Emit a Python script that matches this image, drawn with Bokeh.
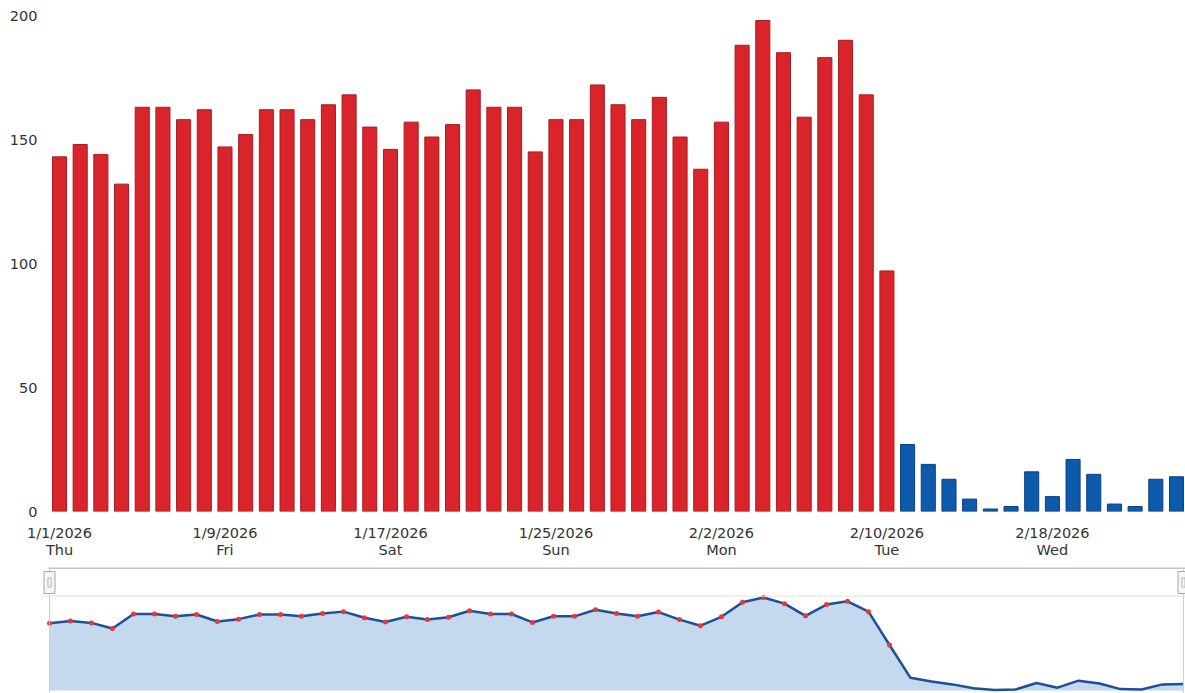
from bokeh.plotting import figure
from bokeh.layouts import column
from bokeh.models import Range1d, FixedTicker, Span
from bokeh.embed import file_html
from bokeh.resources import INLINE

# ---- data ----
red_values = [143, 148, 144, 132, 163, 163, 158, 162, 147, 152,
              162, 162, 158, 164, 168, 155, 146, 157, 151, 156,
              170, 163, 163, 145, 158, 158, 172, 164, 158, 167,
              151, 138, 157, 188, 198, 185, 159, 183, 190, 168,
              97]
blue_values = [27, 19, 13, 5, 1, 2, 16, 6, 21, 15, 3, 2, 13, 14]
y_ticks = [0, 50, 100, 150, 200]
tick_positions = [0, 8, 16, 24, 32, 40, 48]
tick_dates = ["1/1/2026", "1/9/2026", "1/17/2026", "1/25/2026",
              "2/2/2026", "2/10/2026", "2/18/2026"]
tick_days = ["Thu", "Fri", "Sat", "Sun", "Mon", "Tue", "Wed"]

all_values = red_values + blue_values
n = len(all_values)
idx = list(range(n))
red_x = idx[:len(red_values)]
blue_x = idx[len(red_values):]

FONT = "DejaVu Sans"
TEXT = "#333333"

# ---- main bar chart ----
p = figure(width=1185, height=567, output_backend="svg", toolbar_location=None,
           x_range=Range1d(-0.9185, n - 1 + 0.435), y_range=Range1d(0, 200),
           min_border_left=40, min_border_right=0, min_border_top=15,
           min_border_bottom=56)
p.outline_line_color = None
p.xgrid.grid_line_color = None
p.ygrid.grid_line_color = None
p.background_fill_color = "white"

p.vbar(x=red_x, top=red_values, width=0.68, fill_color="#d9242b",
       line_color="#a51c21", line_width=1)
p.vbar(x=blue_x, top=blue_values, width=0.68, fill_color="#0d5aaa",
       line_color="#0a3f82", line_width=1)

for ax in (p.xaxis, p.yaxis):
    ax.axis_line_color = None
    ax.major_tick_line_color = None
    ax.minor_tick_line_color = None
    ax.major_tick_out = 0
    ax.major_tick_in = 0
    ax.minor_tick_out = 0
    ax.minor_tick_in = 0
    ax.major_label_text_font = FONT
    ax.major_label_text_font_size = "14.5px"
    ax.major_label_text_color = TEXT

p.yaxis.ticker = FixedTicker(ticks=y_ticks)
p.yaxis.major_label_standoff = 3
p.xaxis.ticker = FixedTicker(ticks=tick_positions)
p.xaxis.major_label_overrides = {pos: f"{d}\n{w}" for pos, d, w in
                                 zip(tick_positions, tick_dates, tick_days)}
p.xaxis.major_label_standoff = 13
p.xaxis.major_label_text_line_height = 1.1

# ---- navigator ----
nav = figure(width=1185, height=126, output_backend="svg", toolbar_location=None,
             x_range=Range1d(-0.4286, n - 1 + 0.095), y_range=Range1d(-6.4, 262),
             min_border_left=40, min_border_right=0, min_border_top=0,
             min_border_bottom=0)
nav.axis.visible = False
nav.xgrid.grid_line_color = None
nav.ygrid.grid_line_color = None
nav.outline_line_color = None

nav.varea(x=idx, y1=0, y2=all_values, fill_color="#c4d8ee")
nav.line(idx, all_values, line_color="#1d4f9a", line_width=2.5)
nav.scatter(red_x, red_values, size=5, fill_color="#e23a34", line_color=None)

nav.add_layout(Span(location=max(all_values) + 3, dimension="width",
                    line_color="#e2e2e2", line_width=1))
nav.segment(x0=[-0.05], y0=[260.8], x1=[n - 1 + 0.095], y1=[260.8],
            line_color="#c2c2c2", line_width=2)
nav.segment(x0=[0, n - 1], y0=[-6.4, -6.4], x1=[0, n - 1], y1=[260.8, 260.8],
            line_color="#d0d0d0", line_width=1)
nav.rect(x=[0, n - 1], y=[230, 230], width=11, height=22,
         width_units="screen", height_units="screen",
         fill_color="#f6f6f6", line_color="#a8a8a8", line_width=1)
nav.rect(x=[0, n - 1], y=[230, 230], width=3, height=9,
         width_units="screen", height_units="screen",
         fill_color="white", line_color="#b0b0b0", line_width=1)

layout = column(p, nav)
open("out.html", "w").write(file_html(layout, INLINE))
